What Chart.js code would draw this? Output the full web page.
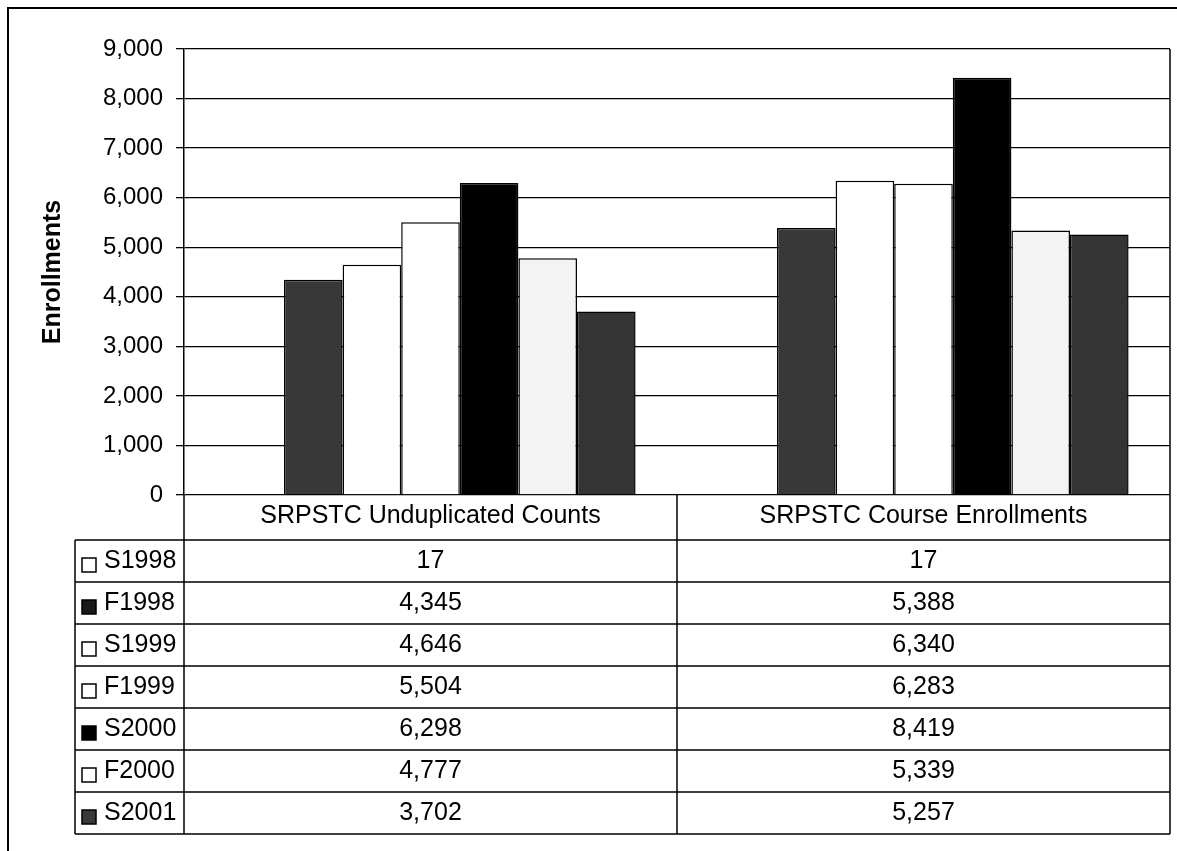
<!DOCTYPE html>
<html>
<head>
<meta charset="utf-8">
<script src="https://cdn.jsdelivr.net/npm/chart.js@4.4.1/dist/chart.umd.min.js"></script>
<style>
  html, body { margin: 0; padding: 0; background: #ffffff; }
  #wrap { width: 1177px; height: 851px; position: relative; }
</style>
</head>
<body>
<div id="wrap"><canvas id="c" width="1177" height="851"></canvas></div>
<script>
// ---- data ----
const categories = ['SRPSTC Unduplicated Counts', 'SRPSTC Course Enrollments'];
const seriesNames = ['S1998', 'F1998', 'S1999', 'F1999', 'S2000', 'F2000', 'S2001'];
const S1998 = [17, 17];
const F1998 = [4345, 5388];
const S1999 = [4646, 6340];
const F1999 = [5504, 6283];
const S2000 = [6298, 8419];
const F2000 = [4777, 5339];
const S2001 = [3702, 5257];
const seriesValues = [S1998, F1998, S1999, F1999, S2000, F2000, S2001];
const yMin = 0, yMax = 9000, yStep = 1000;
const yTitle = 'Enrollments';

// ---- style ----
const FONT = '"Liberation Sans", Arial, Helvetica, sans-serif';
const fills = ['#ffffff', '#383838', '#ffffff', '#ffffff', '#000000', '#f3f3f3', '#343434'];
const markerFills = ['#ffffff', '#1a1a1a', '#ffffff', '#ffffff', '#000000', '#ffffff', '#3a3a3a'];
const fmt = v => v.toLocaleString('en-US');

const datasets = seriesNames.map((name, i) => ({
  label: name,
  data: seriesValues[i],
  backgroundColor: fills[i],
  borderColor: '#000000',
  borderWidth: 1.5,
  categoryPercentage: 0.832,
  barPercentage: 1.0
}));

const tablePlugin = {
  id: 'dataTable',
  afterDraw(chart) {
    const ctx = chart.ctx;
    const area = chart.chartArea;
    const x = chart.scales.x;
    const n = categories.length;
    const catW = (area.right - area.left) / n;
    const headerTop = area.bottom;
    const headerBottom = area.bottom + 45;
    const rowH = 42;
    const tableBottom = headerBottom + rowH * seriesNames.length;
    const leftColX = 75;

    ctx.save();
    ctx.strokeStyle = '#000000';
    ctx.lineWidth = 1.5;

    // plot right border
    ctx.beginPath();
    ctx.moveTo(area.right, area.top);
    ctx.lineTo(area.right, tableBottom);
    ctx.stroke();

    // vertical lines of table
    ctx.beginPath();
    ctx.moveTo(area.left, headerTop);
    ctx.lineTo(area.left, tableBottom);
    for (let i = 1; i < n; i++) {
      const bx = area.left + catW * i;
      ctx.moveTo(bx, headerTop);
      ctx.lineTo(bx, tableBottom);
    }
    ctx.moveTo(leftColX, headerBottom);
    ctx.lineTo(leftColX, tableBottom);
    ctx.stroke();

    // horizontal lines
    ctx.beginPath();
    for (let r = 0; r <= seriesNames.length; r++) {
      const y = headerBottom + r * rowH;
      ctx.moveTo(leftColX, y);
      ctx.lineTo(area.right, y);
    }
    ctx.stroke();

    // header text
    ctx.fillStyle = '#000000';
    ctx.font = '25px ' + FONT;
    ctx.textAlign = 'center';
    ctx.textBaseline = 'middle';
    categories.forEach((c, i) => {
      const cx = x.getPixelForValue(i);
      ctx.fillText(c, cx, (headerTop + headerBottom) / 2 - 1);
    });

    // rows
    seriesNames.forEach((name, r) => {
      const cy = headerBottom + r * rowH + rowH / 2;
      // marker
      ctx.fillStyle = markerFills[r];
      ctx.fillRect(82, cy - 3, 14, 14);
      ctx.lineWidth = 1.5;
      ctx.strokeRect(82, cy - 3, 14, 14);
      ctx.fillStyle = '#000000';
      ctx.textAlign = 'left';
      ctx.fillText(name, 104, cy);
      ctx.textAlign = 'center';
      seriesValues[r].forEach((v, i) => {
        ctx.fillText(fmt(v), x.getPixelForValue(i), cy);
      });
    });

    // outer chart border (left and top)
    ctx.lineWidth = 2;
    ctx.beginPath();
    ctx.moveTo(8, 851);
    ctx.lineTo(8, 8);
    ctx.lineTo(1177, 8);
    ctx.stroke();
    ctx.restore();
  }
};

new Chart(document.getElementById('c'), {
  type: 'bar',
  data: { labels: categories, datasets },
  options: {
    responsive: false,
    devicePixelRatio: 1,
    animation: false,
    layout: { padding: { left: 8, top: 49, right: 7, bottom: 356 } },
    plugins: {
      legend: { display: false },
      tooltip: { enabled: false },
      title: { display: false }
    },
    scales: {
      x: {
        display: false,
        offset: true
      },
      y: {
        min: yMin,
        max: yMax,
        afterFit(scale) { scale.width = 176; },
        ticks: {
          stepSize: yStep,
          color: '#000000',
          font: { family: FONT, size: 24 },
          padding: 13,
          callback: v => fmt(v)
        },
        grid: {
          color: '#000000',
          lineWidth: 1.3,
          tickLength: 8,
          drawTicks: true
        },
        border: { display: true, color: '#000000', width: 1.5 },
        title: {
          display: true,
          text: yTitle,
          color: '#000000',
          font: { family: FONT, size: 25, weight: 'bold' },
          padding: { top: 30, bottom: 0 }
        }
      }
    }
  },
  plugins: [tablePlugin]
});
</script>
</body>
</html>
